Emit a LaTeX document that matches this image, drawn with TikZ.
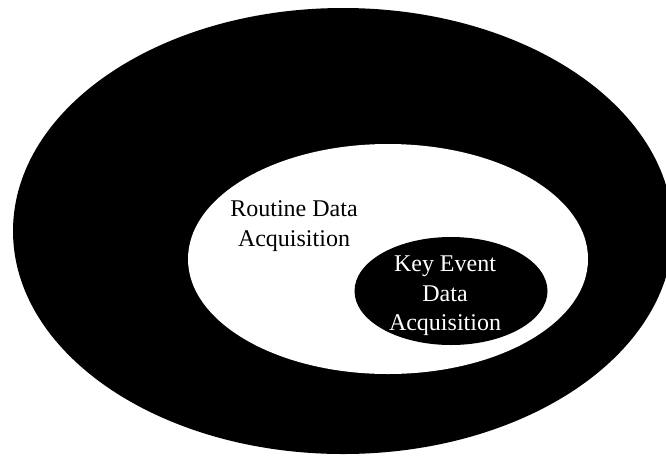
\documentclass[tikz,border=0pt]{standalone}
\usepackage{fontspec}
\setmainfont{Liberation Serif}
\usetikzlibrary{shapes,positioning}

\begin{document}
\begin{tikzpicture}[x=1pt, y=-1pt,
    blob/.style={ellipse, fill=black, inner sep=0pt},
    hole/.style={ellipse, fill=white, inner sep=0pt},
    lbl/.style={align=center, inner sep=0pt, font=\fontsize{24}{29.5}\selectfont}]

    \useasboundingbox (0,0) rectangle (666,456);

    \node[blob, minimum width=660pt, minimum height=446pt] (outer) at (343,231) {};
    \node[hole, minimum width=400pt, minimum height=230pt] (routine) at (388,259) {};
    \node[blob, minimum width=193pt, minimum height=108pt] (keyevent) at (451,291) {};

    \node[lbl] (routinetxt) at (294,226) {Routine Data\\Acquisition};
    \node[lbl, text=white] (keytxt) at (445,296) {Key Event\\Data\\Acquisition};

\end{tikzpicture}
\end{document}
